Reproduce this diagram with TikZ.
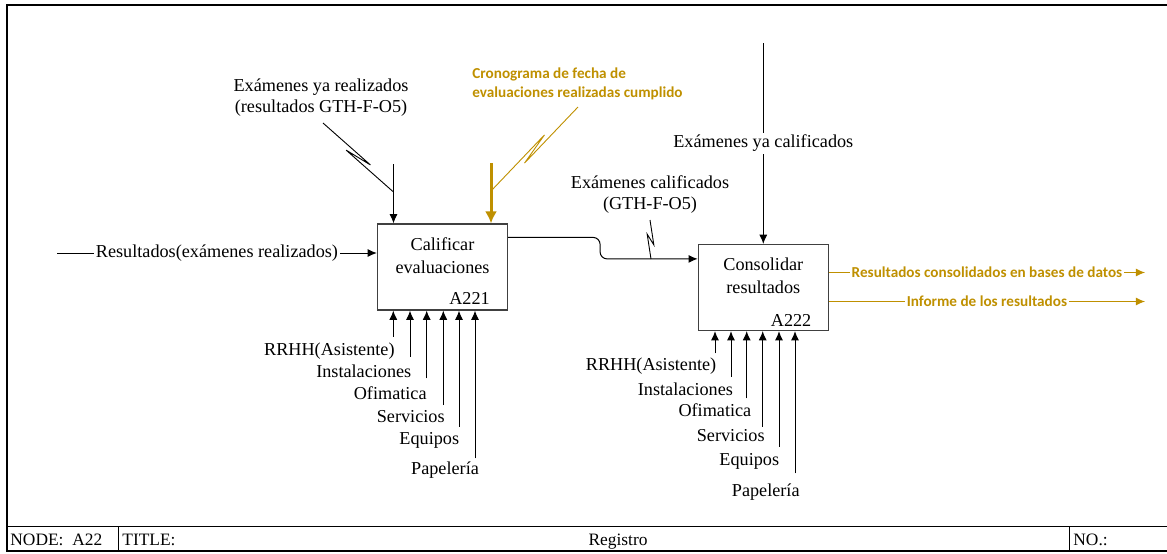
\documentclass[tikz,border=0pt]{standalone}
\usepackage{fontspec}
\setmainfont{Liberation Serif}
\newfontfamily\calibri{Carlito}
\usetikzlibrary{arrows.meta, positioning, calc}
\definecolor{gold}{RGB}{191,144,0}

\tikzstyle{activity} = [rectangle, minimum width=65pt, minimum height=43pt, draw=black!75, line width=0.6pt, inner sep=0pt]
\tikzstyle{boxtext} = [align=center, inner sep=0pt, font=\fontsize{9.1}{11.5}\selectfont]
\tikzstyle{boxcode} = [anchor=base east, inner sep=0pt]
\tikzstyle{arrow} = [line width=0.5pt, -{Latex[length=4.6pt,width=4pt]}]
\tikzstyle{goldarrow} = [line width=1.5pt, draw=gold, -{Latex[length=6pt,width=6pt]}]
\tikzstyle{goldout} = [line width=0.5pt, draw=gold, -{Latex[length=4.6pt,width=4pt]}]
\tikzstyle{squiggle} = [line width=0.45pt, to path={-- ($(\tikztostart)!0.64!(\tikztotarget)!1.6pt!90:(\tikztotarget)$) -- ($(\tikztostart)!0.36!(\tikztotarget)!1.6pt!-90:(\tikztotarget)$) -- (\tikztotarget)}]
\tikzstyle{wirelabel} = [fill=white, inner sep=1pt]
\tikzstyle{goldlabel} = [text=gold, font=\calibri\bfseries\fontsize{7.6}{9.5}\selectfont]
\tikzstyle{mech} = [anchor=base east, inner sep=0pt]
\tikzstyle{footer} = [anchor=base west, inner sep=0pt, font=\fontsize{8.7}{10}\selectfont]

\begin{document}
\begin{tikzpicture}[x=0.5pt, y=-0.5pt, font=\fontsize{9.1}{10.5}\selectfont]
    \useasboundingbox (0,0) rectangle (1167,553);

    % Frame and title row
    \draw [line width=1pt] (1167,5) -- (7,5) -- (7,551) -- (1167,551);
    \draw [line width=0.5pt] (7,526) -- (1167,526) (118,526) -- (118,551) (1069,526) -- (1069,551);
    \node (node-lbl) [footer] at (10,545) {NODE:\ \ A22};
    \node (title-lbl) [footer] at (122,545) {TITLE:};
    \node (title-txt) [footer, anchor=base] at (618,545) {Registro};
    \node (no-lbl) [footer] at (1073,545) {NO.:};

    % Activities
    \node (calificar) [activity] at (442.5,267) {};
    \node (consolidar) [activity] at (763.3,287.5) {};
    \node (calificar-txt) [boxtext, below=7pt of calificar.north] {Calificar\\evaluaciones};
    \node (consolidar-txt) [boxtext, below=7pt of consolidar.north] {Consolidar\\resultados};
    \node (calificar-code) [boxcode] at ([xshift=-9pt, yshift=2.9pt]calificar.south east) {A221};
    \node (consolidar-code) [boxcode] at ([xshift=-8.6pt, yshift=2.4pt]consolidar.south east) {A222};

    % Free ends
    \coordinate (in-res) at (57,253);
    \coordinate (ctl-realiz) at (393.5,164);
    \coordinate (ctl-crono) at (491,163);
    \coordinate (ctl-calif) at (763.3,43);
    \coordinate (out-bd) at (1145,272.5);
    \coordinate (out-inf) at (1145,301.5);
    \coordinate (sq-realiz-a) at (323,123);
    \coordinate (sq-realiz-b) at (393.5,192);
    \coordinate (sq-crono-a) at (578,107);
    \coordinate (sq-crono-b) at (491,191);
    \coordinate (sq-calif-a) at (650,220);
    \coordinate (sq-calif-b) at (651,259);

    % Labels
    \node (realiz-lbl) [align=center] at (321,98) {Exámenes ya realizados\\(resultados GTH-F-O5)};
    \node (crono-lbl) [goldlabel, align=left, anchor=west, inner sep=0pt] at (472,84) {Cronograma de fecha de\\evaluaciones realizadas cumplido};
    \node (calif-lbl) [align=center] at (650,195) {Exámenes calificados\\(GTH-F-O5)};

    % Arrows
    \draw [arrow] (in-res) -- node [wirelabel] {Resultados(exámenes realizados)} (calificar.west |- in-res);
    \draw [arrow] (ctl-realiz) -- (ctl-realiz |- calificar.north);
    \draw [goldarrow] (ctl-crono) -- (ctl-crono |- calificar.north);
    \draw [arrow] (ctl-calif) -- node [wirelabel] {Exámenes ya calificados} (ctl-calif |- consolidar.north);
    \draw [arrow, rounded corners=3.5pt] ([yshift=-7pt]calificar.north east) -- ++(46pt,0) |- ([yshift=-7.5pt]consolidar.north west);
    \draw [goldout] (consolidar.east |- out-bd) -- node [wirelabel, goldlabel] {Resultados consolidados en bases de datos} (out-bd);
    \draw [goldout] (consolidar.east |- out-inf) -- node [wirelabel, goldlabel] {Informe de los resultados} (out-inf);

    % Squiggles
    \draw [squiggle] (sq-realiz-a) to (sq-realiz-b);
    \draw [squiggle, gold] (sq-crono-a) to (sq-crono-b);
    \draw [squiggle] (sq-calif-a) to (sq-calif-b);

    % Mechanisms
    \foreach \x/\e/\lx/\ly/\txt [count=\i] in {393.3/336.7/395/355.5/RRHH(Asistente), 410/356.7/411.7/377/Instalaciones, 426.7/378.3/427/399/Ofimatica, 443.3/405/445/422/Servicios, 459/426.7/459.5/444/Equipos, 475/458.3/479.3/474/Papelería}
    {
        \coordinate (cal-m\i) at (\x,\e);
        \node (cal-ml\i) [mech] at (\lx,\ly) {\txt};
        \draw [arrow] (cal-m\i) -- (cal-m\i |- calificar.south);
    }
    \foreach \x/\e/\lx/\ly/\txt [count=\i] in {715/353.3/716.7/370.5/RRHH(Asistente), 731/376.7/733.3/395/Instalaciones, 746.7/398.3/751.7/416/Ofimatica, 762.7/426.7/765/441.5/Servicios, 779/446.7/779.5/465.5/Equipos, 795/473.3/800/496/Papelería}
    {
        \coordinate (con-m\i) at (\x,\e);
        \node (con-ml\i) [mech] at (\lx,\ly) {\txt};
        \draw [arrow] (con-m\i) -- (con-m\i |- consolidar.south);
    }

\end{tikzpicture}
\end{document}
